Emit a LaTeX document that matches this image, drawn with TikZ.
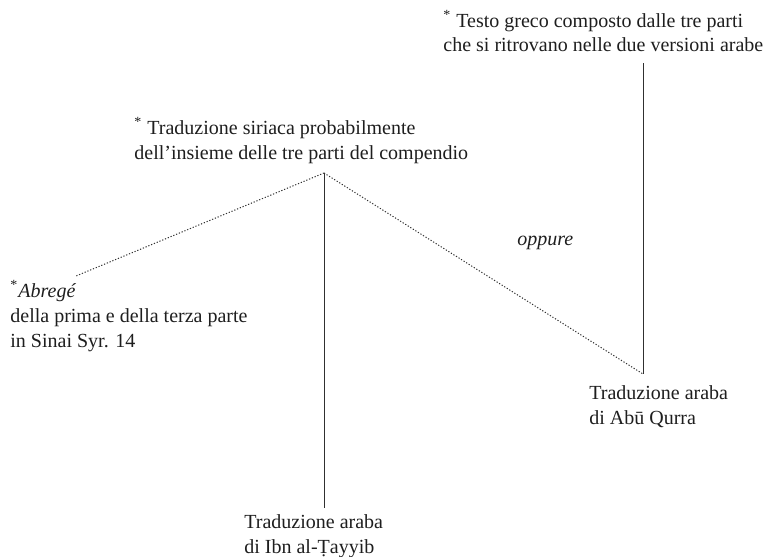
\documentclass[tikz,border=0pt]{standalone}
\newcommand{\ricostr}{\textsuperscript{*}}
\usepackage{fontspec}
\setmainfont{Liberation Serif}
\usepackage{xcolor}
\usepackage{tikz}
\definecolor{ink}{HTML}{1E1E1E}
\definecolor{stem}{HTML}{303030}
\tikzset{
  txt/.style={inner sep=0pt, anchor=base west, align=left, text=ink,
              font=\fontsize{10}{12.5}\selectfont},
  stemln/.style={draw=stem, line width=0.45pt},
  dotln/.style={draw=stem, line width=0.5pt, dash pattern=on 0.6pt off 0.9pt},
}
\begin{document}
\begin{tikzpicture}[x=0.5pt, y=-0.5pt]
  \useasboundingbox (0,0) rectangle (768,557);

  % testimoni (base = ultima riga)
  \node[txt] (greco) at (443,52)
       {\ricostr\ Testo greco composto dalle tre parti\\
        che si ritrovano nelle due versioni arabe};
  \node[txt] (siriaca) at (134,159)
       {\ricostr\ Traduzione siriaca probabilmente\\
        dell'insieme delle tre parti del compendio};
  \node[txt] (abrege) at (10,347)
       {\ricostr\textit{Abregé}\\
        della prima e della terza parte\\
        in Sinai Syr. 14};
  \node[txt] (qurra) at (589,424)
       {Traduzione araba\\di Abū Qurra};
  \node[txt] (tayyib) at (244,553)
       {Traduzione araba\\di Ibn al-Ṭayyib};
  \node[txt, font=\fontsize{10}{12.5}\selectfont\itshape] (oppure) at (517,245) {oppure};

  % punti di attacco
  \coordinate (g) at (643,63);
  \coordinate (s) at (324,173);
  \coordinate (a) at (76,276);
  \coordinate (q) at (643,374);
  \coordinate (t) at (324,508);

  \draw[stemln] (g) -- (q);
  \draw[stemln] (s) -- (t);
  \draw[dotln] (s) -- (a);
  \draw[dotln] (s) -- (q);
\end{tikzpicture}
\end{document}
